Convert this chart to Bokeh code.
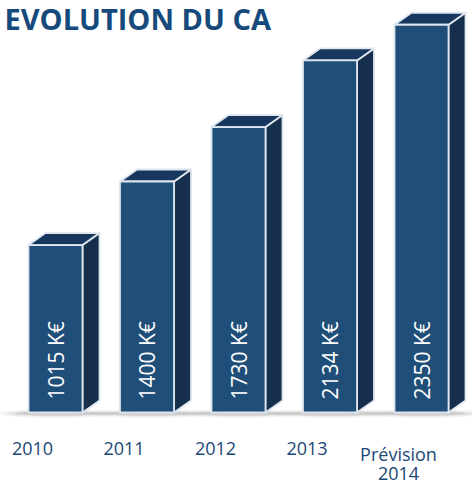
import numpy as np
from bokeh.plotting import figure
from bokeh.models import ColumnDataSource, Range1d
from bokeh.core.properties import value
from bokeh.embed import file_html
from bokeh.resources import INLINE

# ---- data ----
categories = ["2010", "2011", "2012", "2013", "Prévision\n2014"]
values = [1015, 1400, 1730, 2134, 2350]
value_labels = ["1015 K€", "1400 K€", "1730 K€", "2134 K€", "2350 K€"]
title_text = "EVOLUTION DU CA"

# ---- layout constants (pixels) ----
W, H = 472, 486
PX_PER_BAR = 91.5
PX_PER_UNIT = 0.165
X0_PX = 55.0      # canvas x of first bar's front centre
BASE_PX = 412.0   # canvas y (from top) of the baseline
FRONT_W_PX = 54.0
DEPTH_X_PX = 17.0
DEPTH_Y_PX = 12.0

x_start = -X0_PX / PX_PER_BAR
x_end = x_start + W / PX_PER_BAR
y_start = -(H - BASE_PX) / PX_PER_UNIT
y_end = y_start + H / PX_PER_UNIT

def ux(px):
    return px / PX_PER_BAR

def uy(px):
    return px / PX_PER_UNIT

def y_at(canvas_y):
    return (BASE_PX - canvas_y) / PX_PER_UNIT

FRONT = "#1f4e79"
TOP = "#17375e"
SIDE = "#152f4d"
EDGE = "#dde5ee"
TXT = "#1a4775"

p = figure(width=W, height=H, output_backend="svg", toolbar_location=None,
           x_range=Range1d(x_start, x_end), y_range=Range1d(y_start, y_end),
           x_axis_location=None, y_axis_location=None, min_border=0,
           background_fill_color="white", border_fill_color="white")
p.grid.visible = False
p.outline_line_color = None

xs = np.arange(len(values), dtype=float)
vals = np.array(values, dtype=float)
hw = ux(FRONT_W_PX) / 2
dx = ux(DEPTH_X_PX)
dy = uy(DEPTH_Y_PX)

# soft shadows under the bars
for wpx, hpx, a in [(116, 9, 0.07), (100, 6, 0.10), (84, 4, 0.14)]:
    p.ellipse(x=xs + ux(2), y=np.full(len(xs), -uy(1)), width=ux(wpx), height=uy(hpx),
              fill_color="#505050", fill_alpha=a, line_color=None)

# side faces
side_x = [[x + hw, x + hw + dx, x + hw + dx, x + hw] for x in xs]
side_y = [[0, dy, v + dy, v] for v in vals]
p.patches(side_x, side_y, fill_color=SIDE, line_color=EDGE, line_width=1.8, line_join="round")

# top faces
top_x = [[x - hw, x + hw, x + hw + dx, x - hw + dx] for x in xs]
top_y = [[v, v, v + dy, v + dy] for v in vals]
p.patches(top_x, top_y, fill_color=TOP, line_color=EDGE, line_width=1.8, line_join="round")

# front faces
src = ColumnDataSource(dict(x=xs, top=vals, lab=value_labels, cat=categories))
p.vbar(x="x", top="top", bottom=0, width=2 * hw, source=src,
       fill_color=FRONT, line_color=EDGE, line_width=1.8, line_join="round")

# value labels (vertical)
p.text(x="x", y=uy(13), text="lab", source=src, angle=np.pi / 2,
       text_align="left", text_baseline="middle", text_color="white",
       text_font=value("Open Sans"), text_font_size="21px")

# category labels (split into lines)
line1 = [c.split("\n")[0] for c in categories]
line2 = [c.split("\n")[1] if "\n" in c else "" for c in categories]
p.text(x=xs - ux(23), y=np.full(len(xs), y_at(441)), text=line1,
       text_align="center", text_baseline="top", text_color=TXT,
       text_font=value("Open Sans"), text_font_size="18px")
p.text(x=xs - ux(23), y=np.full(len(xs), y_at(466)), text=line2,
       text_align="center", text_baseline="top", text_color=TXT,
       text_font=value("Open Sans"), text_font_size="18px")

# title
p.text(x=[x_start + ux(4)], y=[y_at(-2)], text=[title_text],
       text_align="left", text_baseline="top", text_color="#174a7c",
       text_font=value("Open Sans"), text_font_style="bold", text_font_size="29px")

open("out.html", "w").write(file_html(p, INLINE))
